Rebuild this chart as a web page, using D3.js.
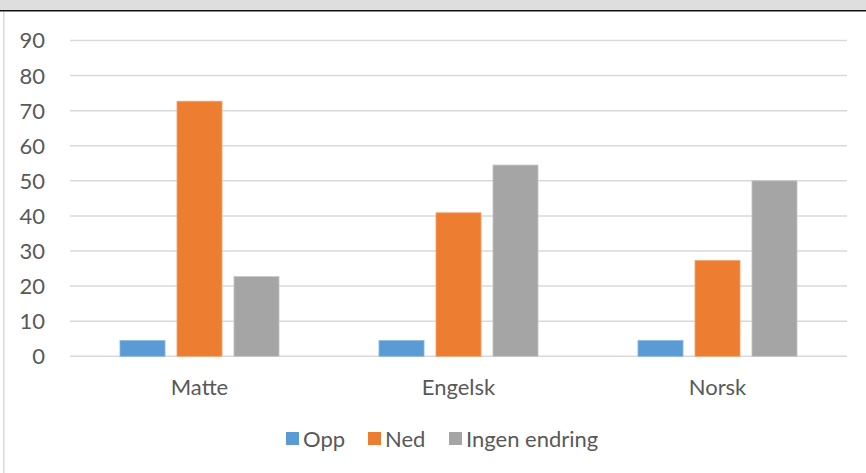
<!DOCTYPE html>
<html>
<head>
<meta charset="utf-8">
<script src="https://cdn.jsdelivr.net/npm/d3@7"></script>
<style>
  body { margin: 0; background: #fff; }
  svg text { font-family: Lato, "Open Sans", sans-serif; fill: #595959; }
</style>
</head>
<body>
<div class="chart"></div>
<script>
// data
var categories = ["Matte", "Engelsk", "Norsk"];
var seriesNames = ["Opp", "Ned", "Ingen endring"];
var opp = [4.5, 4.5, 4.5];
var ned = [72.7, 40.9, 27.3];
var ingen = [22.7, 54.5, 50];
var yTicks = [0, 10, 20, 30, 40, 50, 60, 70, 80, 90];
var colors = ["#5B9BD5", "#ED7D31", "#A5A5A5"];
var strokes = ["#8DB8E3", "#F4A46E", "#C4C4C4"];

var svgWidth = 866;
var svgHeight = 473;

var svg = d3.select(".chart")
  .append("svg")
  .attr("width", svgWidth)
  .attr("height", svgHeight);

// window frame bits
svg.append("rect").attr("x", 0).attr("y", 0).attr("width", svgWidth).attr("height", 10).attr("fill", "#dedede");
svg.append("rect").attr("x", 0).attr("y", 10).attr("width", svgWidth).attr("height", 1.5).attr("fill", "#111");
svg.append("rect").attr("x", 3).attr("y", 12).attr("width", 1.5).attr("height", svgHeight - 12).attr("fill", "#d9d9d9");

var plotLeft = 70, plotRight = 847;
var y = d3.scaleLinear().domain([0, 90]).range([356.3, 40.5]);

var x0 = d3.scaleBand().domain(categories).range([plotLeft, plotRight])
  .paddingInner(0.386).paddingOuter(0.193);
var x1 = d3.scaleBand().domain(seriesNames).range([0, x0.bandwidth()])
  .paddingInner(0.21).paddingOuter(0);

// gridlines
svg.append("g").selectAll("line")
  .data(yTicks)
  .enter()
  .append("line")
  .attr("x1", plotLeft)
  .attr("x2", plotRight)
  .attr("y1", function(d) { return y(d); })
  .attr("y2", function(d) { return y(d); })
  .attr("stroke", "#d9d9d9")
  .attr("stroke-width", 1.5);

// y labels
svg.append("g").selectAll("text")
  .data(yTicks)
  .enter()
  .append("text")
  .attr("x", 45)
  .attr("y", function(d) { return y(d); })
  .attr("dy", "0.36em")
  .attr("text-anchor", "end")
  .style("font-size", "22px")
  .text(function(d) { return d; });

// bars
var rows = categories.map(function(c, i) {
  return { cat: c, values: [opp[i], ned[i], ingen[i]] };
});

var groups = svg.append("g").selectAll("g")
  .data(rows)
  .enter()
  .append("g")
  .attr("transform", function(d) { return "translate(" + x0(d.cat) + ",0)"; });

groups.selectAll("rect")
  .data(function(d) {
    return d.values.map(function(v, j) { return { key: seriesNames[j], value: v, j: j }; });
  })
  .enter()
  .append("rect")
  .attr("x", function(d) { return x1(d.key); })
  .attr("y", function(d) { return y(d.value); })
  .attr("width", x1.bandwidth())
  .attr("height", function(d) { return y(0) - y(d.value); })
  .attr("fill", function(d) { return colors[d.j]; })
  .attr("stroke", function(d) { return strokes[d.j]; })
  .attr("stroke-width", 0.8);

// category labels
svg.append("g").selectAll("text")
  .data(categories)
  .enter()
  .append("text")
  .attr("x", function(d) { return x0(d) + x0.bandwidth() / 2; })
  .attr("y", 395)
  .attr("text-anchor", "middle")
  .style("font-size", "22px")
  .text(function(d) { return d; });

// legend
var legend = svg.append("g");
var lx = [286, 368, 449];
seriesNames.forEach(function(name, i) {
  legend.append("rect")
    .attr("x", lx[i]).attr("y", 432)
    .attr("width", 13).attr("height", 13)
    .attr("fill", colors[i]);
  legend.append("text")
    .attr("x", lx[i] + 17).attr("y", 447)
    .style("font-size", "22px")
    .text(name);
});
</script>
</body>
</html>
